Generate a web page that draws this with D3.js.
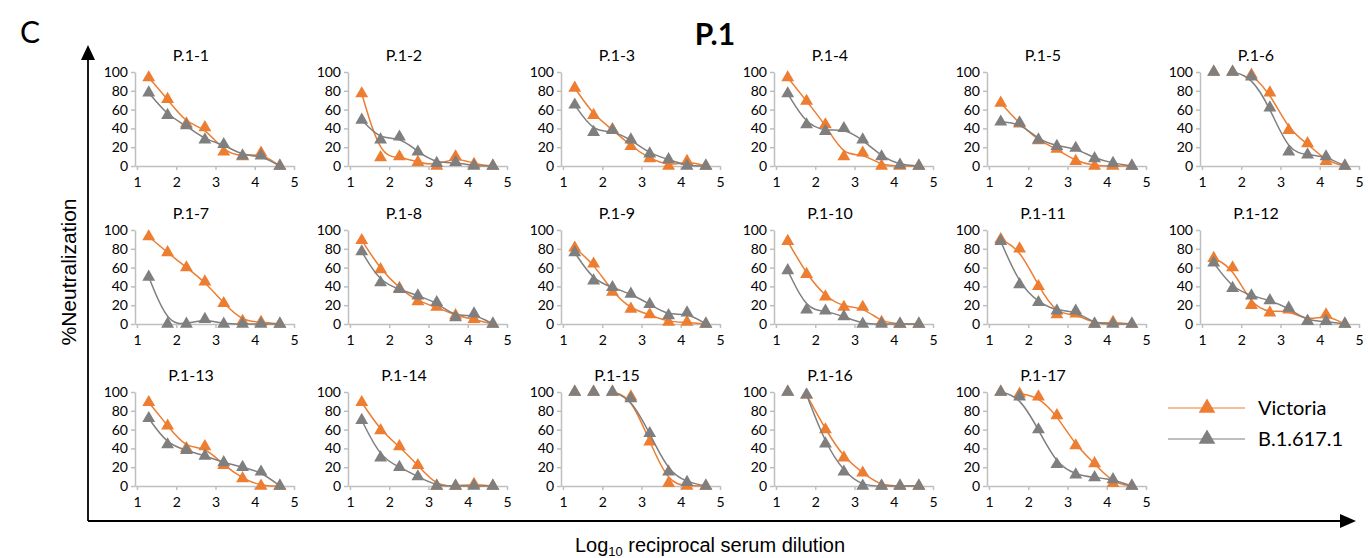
<!DOCTYPE html>
<html>
<head>
<meta charset="utf-8">
<script src="https://cdn.jsdelivr.net/npm/d3@7"></script>
<style>
body { margin: 0; background: #fff; }
svg text { font-family: Lato, "Open Sans", sans-serif; fill: #000; }
</style>
</head>
<body>
<div id="canvas"></div>
<script>
"use strict"

let svgWidth = 1368
let svgHeight = 558

// panel names, x values (log10 of 1:20, 1:60 ... 3-fold dilutions) and readings
const panelNames = ["P.1-1", "P.1-2", "P.1-3", "P.1-4", "P.1-5", "P.1-6",
    "P.1-7", "P.1-8", "P.1-9", "P.1-10", "P.1-11", "P.1-12",
    "P.1-13", "P.1-14", "P.1-15", "P.1-16", "P.1-17"]

const logDilution = [1.30, 1.78, 2.26, 2.73, 3.21, 3.69, 4.16, 4.64]

const victoria = [
    [94, 71, 45, 41, 15, 10, 14, 0],
    [77, 9, 10, 4, 0, 10, 2, 0],
    [83, 54, 39, 21, 8, 0, 5, 0],
    [94, 69, 44, 10, 14, 0, 0, 0],
    [67, 45, 27, 18, 5, 0, 0, 0],
    [100, 100, 97, 78, 38, 24, 5, 0],
    [93, 76, 60, 45, 22, 3, 2, 0],
    [89, 58, 38, 24, 18, 9, 5, 0],
    [81, 64, 34, 16, 10, 2, 2, 0],
    [88, 53, 29, 18, 18, 2, 0, 0],
    [90, 80, 40, 10, 11, 0, 2, 0],
    [70, 60, 20, 12, 15, 3, 10, 0],
    [89, 64, 40, 42, 22, 8, 0, 0],
    [89, 59, 42, 22, 0, 0, 2, 0],
    [100, 100, 100, 95, 47, 3, 0, 0],
    [100, 97, 60, 30, 14, 0, 0, 0],
    [100, 98, 95, 75, 43, 24, 3, 0]
]

const b16171 = [
    [78, 54, 43, 28, 23, 11, 11, 0],
    [49, 28, 31, 15, 3, 4, 0, 0],
    [65, 36, 38, 28, 13, 7, 0, 0],
    [77, 44, 37, 40, 28, 10, 1, 0],
    [47, 46, 28, 21, 19, 8, 3, 0],
    [100, 100, 95, 62, 15, 12, 10, 0],
    [50, 0, 0, 5, 0, 0, 0, 0],
    [77, 44, 37, 30, 23, 7, 11, 0],
    [76, 46, 39, 32, 21, 9, 12, 0],
    [57, 15, 14, 8, 0, 0, 0, 0],
    [88, 42, 23, 14, 14, 0, 0, 0],
    [65, 38, 30, 25, 17, 3, 3, 0],
    [72, 44, 38, 32, 25, 20, 15, 0],
    [70, 30, 20, 10, 0, 0, 0, 0],
    [100, 100, 100, 93, 56, 15, 4, 0],
    [100, 97, 45, 15, 0, 0, 0, 0],
    [100, 95, 60, 23, 12, 9, 7, 0]
]

const xTicks = [1, 2, 3, 4, 5]
const yTicks = [0, 20, 40, 60, 80, 100]
const seriesNames = ["Victoria", "B.1.617.1"]

let colors = {
    "Victoria": "#ED7D31",
    "B.1.617.1": "#7F7F7F"
}

let svg = d3.select("#canvas")
    .append("svg")
    .attr("width", svgWidth)
    .attr("height", svgHeight)

// panel grid geometry
let panelW = 159
let panelH = 94
let colX = d3.range(6).map(i => 135 + i * 213)
let rowY = [72, 230, 392]

let xScale = d3.scaleLinear().domain([0.95, 5]).range([0, panelW])
let yScale = d3.scaleLinear().domain([0, 100]).range([panelH, 0])

let tri = d3.symbol().type(d3.symbolTriangle).size(72)
let bigTri = d3.symbol().type(d3.symbolTriangle).size(120)

let line = d3.line()
    .x(d => xScale(d.x))
    .y(d => yScale(d.y))
    .curve(d3.curveBasis)

// the fitted curve starts at the last plateau point (>= 97%)
function curvePoints(values) {
    let start = 0
    values.forEach((v, i) => { if (v >= 97) start = i })
    return values.slice(start).map((v, i) => ({ x: logDilution[start + i], y: v }))
}

panelNames.forEach(function (name, p) {
    let g = svg.append("g")
        .attr("transform", `translate(${colX[p % 6]},${rowY[Math.floor(p / 6)]})`)

    g.append("text")
        .attr("x", 56)
        .attr("y", -11)
        .attr("text-anchor", "middle")
        .attr("font-size", 16)
        .text(name)

    let xAxis = g.append("g")
        .attr("transform", `translate(0,${panelH})`)
        .call(d3.axisBottom(xScale).tickValues(xTicks).tickFormat(d3.format("d"))
            .tickSize(4).tickSizeOuter(0).tickPadding(7))
    let yAxis = g.append("g")
        .call(d3.axisLeft(yScale).tickValues(yTicks).tickFormat(d3.format("d"))
            .tickSize(4).tickSizeOuter(0).tickPadding(3))

    ;[xAxis, yAxis].forEach(a => {
        a.selectAll("path, line").attr("stroke", "#BFBFBF").attr("stroke-width", 1.5)
        a.selectAll("text").attr("font-size", 14).attr("font-family", "Lato, sans-serif").attr("fill", "#000")
    })

    let sets = [victoria[p], b16171[p]]
    sets.forEach(function (values, s) {
        let c = colors[seriesNames[s]]
        g.append("path")
            .attr("d", line(curvePoints(values)))
            .attr("fill", "none")
            .attr("stroke", c)
            .attr("stroke-width", 1.5)

        g.selectAll("path.mk" + s)
            .data(values)
            .enter()
            .append("path")
            .attr("class", "mk" + s)
            .attr("d", tri)
            .attr("transform", (v, i) => `translate(${xScale(logDilution[i])},${yScale(v)})`)
            .attr("fill", c)
    })
})

/* big outer axes with arrows */
svg.append("line")
    .attr("x1", 88).attr("y1", 56).attr("x2", 88).attr("y2", 521)
    .attr("stroke", "#000").attr("stroke-width", 1.8)
svg.append("path")
    .attr("d", "M88,45 L81,60 L95,60 Z")
    .attr("fill", "#000")
svg.append("line")
    .attr("x1", 88).attr("y1", 521).attr("x2", 1345).attr("y2", 521)
    .attr("stroke", "#000").attr("stroke-width", 1.8)
svg.append("path")
    .attr("d", "M1356,521 L1340,514 L1340,528 Z")
    .attr("fill", "#000")

svg.append("text")
    .attr("x", 20).attr("y", 43)
    .attr("font-size", 30)
    .text("C")

svg.append("text")
    .attr("x", 715).attr("y", 45)
    .attr("text-anchor", "middle")
    .attr("font-size", 30)
    .attr("font-weight", "bold")
    .text("P.1")

svg.append("text")
    .attr("transform", "rotate(-90)")
    .attr("x", -272).attr("y", 76)
    .attr("text-anchor", "middle")
    .attr("font-size", 21)
    .style("font-family", "'Liberation Sans', Arial, sans-serif")
    .text("%Neutralization")

let xLabel = svg.append("text")
    .attr("x", 710).attr("y", 552)
    .attr("text-anchor", "middle")
    .attr("font-size", 20)
    .style("font-family", "'Liberation Sans', Arial, sans-serif")
xLabel.append("tspan").text("Log")
xLabel.append("tspan").attr("font-size", 13).attr("dy", 4).text("10")
xLabel.append("tspan").attr("dy", -4).text(" reciprocal serum dilution")

/* legend */
let legend = svg.append("g")
    .attr("transform", "translate(1168,408)")

seriesNames.forEach(function (name, i) {
    let row = legend.append("g").attr("transform", `translate(0,${i * 31})`)
    row.append("line")
        .attr("x1", 0).attr("x2", 77)
        .attr("stroke", colors[name])
        .attr("stroke-width", 1.2)
    row.append("path")
        .attr("d", bigTri)
        .attr("transform", "translate(39,0)")
        .attr("fill", colors[name])
    row.append("text")
        .attr("x", 90).attr("y", 7)
        .attr("font-size", 20)
        .text(name)
})
</script>
</body>
</html>
